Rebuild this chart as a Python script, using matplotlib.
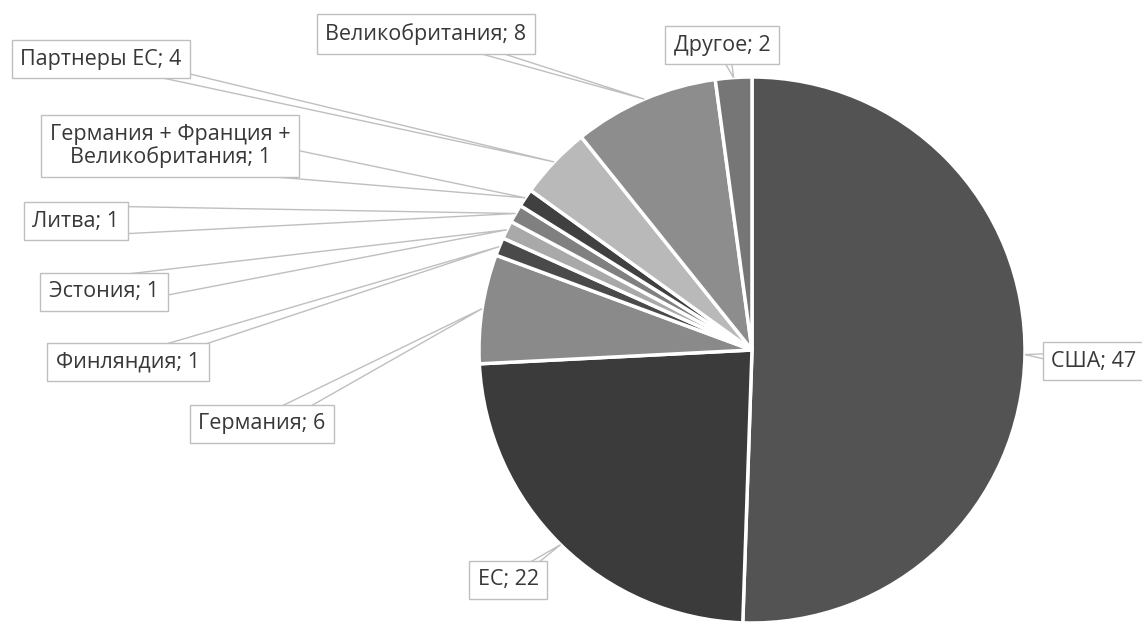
import numpy as np
import matplotlib
matplotlib.use("Agg")
import matplotlib.pyplot as plt
from matplotlib.patches import Polygon

# data
categories = ["США", "ЕС", "Германия", "Финляндия", "Эстония", "Литва",
              "Германия + Франция +\nВеликобритания", "Партнеры ЕС",
              "Великобритания", "Другое"]
values = [47, 22, 6, 1, 1, 1, 1, 4, 8, 2]
colors = ["#535353", "#3b3b3b", "#8a8a8a", "#4a4a4a", "#a9a9a9", "#808080",
          "#404040", "#b9b9b9", "#8d8d8d", "#767676"]

# label box centres in pixel coords (y from top)
label_pos = [(1094, 361), (508, 580), (262, 424), (128, 362), (104, 292),
             (76, 221), (170, 146), (101, 59), (426, 34), (722, 45)]

W, H = 1142, 628
fig = plt.figure(figsize=(W / 100, H / 100), dpi=100)
ax = fig.add_axes([0, 0, 1, 1])

cx, cy, R = 752, H - 350, 273
wedges, _ = ax.pie(values, colors=colors, startangle=90, counterclock=False,
                   center=(cx, cy), radius=R,
                   wedgeprops=dict(edgecolor="white", linewidth=2.5))
ax.set_xlim(0, W)
ax.set_ylim(0, H)
ax.axis("off")

texts = []
for name, val, (lx, ly) in zip(categories, values, label_pos):
    t = ax.text(lx, H - ly, f"{name}; {val}", ha="center", va="center",
                multialignment="center", fontsize=15.5, family="Open Sans",
                color="#383838", zorder=4, linespacing=1.1,
                bbox=dict(boxstyle="square,pad=0.4", fc="white",
                          ec="#bfbfbf", lw=1))
    texts.append(t)

fig.canvas.draw()
renderer = fig.canvas.get_renderer()

# callout tails from box to the middle of each wedge's outer arc
for w, t in zip(wedges, texts):
    mid = np.deg2rad((w.theta1 + w.theta2) / 2)
    tip = np.array([cx + R * np.cos(mid), cy + R * np.sin(mid)])
    bb = t.get_bbox_patch().get_window_extent(renderer)
    bx, by = (bb.x0 + bb.x1) / 2, (bb.y0 + bb.y1) / 2
    dx, dy = tip[0] - bx, tip[1] - by
    dist = np.hypot(dx, dy)
    hw = 6 + 0.045 * dist
    if abs(dx) / bb.width > abs(dy) / bb.height:
        hw = min(hw, 0.4 * bb.height)
        base = [(bx, by - hw), (bx, by + hw)]
    else:
        hw = min(hw, 0.4 * bb.width)
        base = [(bx - hw, by), (bx + hw, by)]
    tail = Polygon([base[0], tuple(tip), base[1]], closed=True,
                   fc="white", ec="#bfbfbf", lw=1, zorder=3)
    ax.add_patch(tail)

fig.savefig("out.png", dpi=100)
